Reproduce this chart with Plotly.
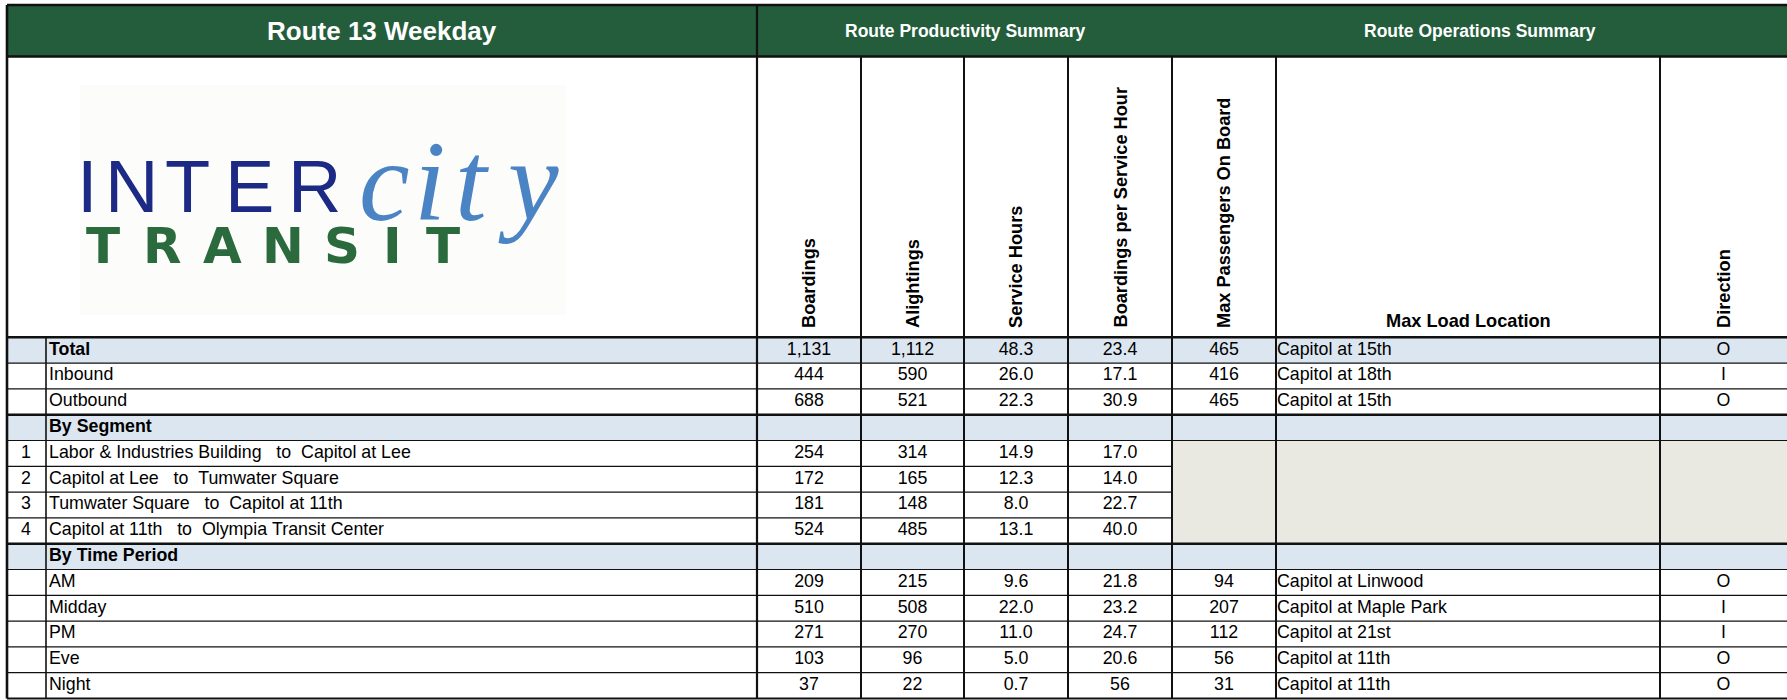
import plotly.graph_objects as go

# ---------------- data ----------------
title = "Route 13 Weekday"
group_titles = ["Route Productivity Summary", "Route Operations Summary"]
col_headers = ["Boardings", "Alightings", "Service Hours", "Boardings per Service Hour",
               "Max Passengers On Board", "Max Load Location", "Direction"]

row_index = ["", "", "", "", "1", "2", "3", "4", "", "", "", "", "", ""]
row_labels = ["Total", "Inbound", "Outbound", "By Segment",
              "Labor & Industries Building   to  Capitol at Lee",
              "Capitol at Lee   to  Tumwater Square",
              "Tumwater Square   to  Capitol at 11th",
              "Capitol at 11th   to  Olympia Transit Center",
              "By Time Period", "AM", "Midday", "PM", "Eve", "Night"]
is_group = [True, False, False, True, False, False, False, False,
            True, False, False, False, False, False]

boardings = [1131, 444, 688, None, 254, 172, 181, 524, None, 209, 510, 271, 103, 37]
alightings = [1112, 590, 521, None, 314, 165, 148, 485, None, 215, 508, 270, 96, 22]
service_hours = [48.3, 26.0, 22.3, None, 14.9, 12.3, 8.0, 13.1, None, 9.6, 22.0, 11.0, 5.0, 0.7]
boardings_per_hour = [23.4, 17.1, 30.9, None, 17.0, 14.0, 22.7, 40.0, None, 21.8, 23.2, 24.7, 20.6, 56]
max_passengers = [465, 416, 465, None, None, None, None, None, None, 94, 207, 112, 56, 31]
max_load_location = ["Capitol at 15th", "Capitol at 18th", "Capitol at 15th", "", "", "", "", "", "",
                     "Capitol at Linwood", "Capitol at Maple Park", "Capitol at 21st",
                     "Capitol at 11th", "Capitol at 11th"]
direction = ["O", "I", "O", "", "", "", "", "", "", "O", "I", "I", "O", "O"]
# rows (by index) where operations columns are not applicable (shaded)
shaded_rows = [4, 5, 6, 7]

# ---------------- layout constants ----------------
W, H = 1787, 700
FONT = "Liberation Sans, Arial, sans-serif"
GREEN = "#245D3C"
BLUE = "#DCE6F1"
SHADE = "#E9E9E1"

X_LEFT = 7
X_IDX = 46
COL_EDGES = [757, 861, 964, 1068, 1172, 1276, 1660, W]
Y_TOP = 5
Y_HEAD = 56.5
Y_ROWS = 337.3
ROW_H = 25.8
n = len(row_labels)
row_top = [Y_ROWS + i * ROW_H for i in range(n)]
row_mid = [t + ROW_H / 2 for t in row_top]
Y_BOT = Y_ROWS + n * ROW_H


def fmt_int(v):
    return "" if v is None else f"{v:,}"


def fmt_1(v):
    if v is None:
        return ""
    if isinstance(v, int):
        return str(v)
    return f"{v:.1f}"


def nb(s):
    return s.replace("&", "&amp;").replace(" ", "\u00a0")


fig = go.Figure()
shapes = []


def line(x0, y0, x1, y1, w=1.2, c="#111"):
    shapes.append(dict(type="line", x0=x0, y0=y0, x1=x1, y1=y1, xref="x", yref="y",
                       line=dict(color=c, width=w), layer="above"))


def rect(x0, y0, x1, y1, fill):
    shapes.append(dict(type="rect", x0=x0, y0=y0, x1=x1, y1=y1, xref="x", yref="y",
                       fillcolor=fill, line=dict(width=0), layer="below"))


# header band
rect(X_LEFT, Y_TOP, W, Y_HEAD, GREEN)
# group row fills
for i, g in enumerate(is_group):
    if g:
        rect(X_LEFT, row_top[i], W, row_top[i] + ROW_H, BLUE)
# shaded n/a block
rect(COL_EDGES[4], row_top[shaded_rows[0]], W, row_top[shaded_rows[-1]] + ROW_H, SHADE)

# horizontal row lines
for i in range(1, n):
    y = row_top[i]
    thick = is_group[i]
    if i - 1 in shaded_rows and i in shaded_rows:
        line(X_LEFT, y, COL_EDGES[4], y, 1.2)
    else:
        line(X_LEFT, y, W, y, 2.6 if thick else 1.2)
line(X_LEFT, Y_ROWS, W, Y_ROWS, 2.6)
line(X_LEFT, Y_BOT, W, Y_BOT, 2.2)
line(X_LEFT, Y_TOP, W, Y_TOP, 2.6)
line(X_LEFT, Y_HEAD, W, Y_HEAD, 2.6)
# vertical lines
line(X_LEFT, Y_TOP, X_LEFT, Y_BOT, 2.6)
line(COL_EDGES[0], Y_TOP, COL_EDGES[0], Y_BOT, 2.2)
for xe in COL_EDGES[1:-1]:
    line(xe, Y_HEAD, xe, Y_BOT, 2.0)
line(X_IDX, Y_ROWS, X_IDX, Y_BOT, 1.6)

# ---------------- text traces ----------------
txt = dict(family=FONT, size=17.8, color="#000")
centers = [(COL_EDGES[k] + COL_EDGES[k + 1]) / 2 for k in range(len(COL_EDGES) - 1)]

fig.add_trace(go.Scatter(x=[26] * n, y=row_mid, mode="text", text=row_index,
                         textposition="middle center", textfont=txt, hoverinfo="skip"))
fig.add_trace(go.Scatter(x=[49] * n, y=row_mid, mode="text",
                         text=[("<b>%s</b>" % nb(s)) if g else nb(s) for s, g in zip(row_labels, is_group)],
                         textposition="middle right", textfont=txt, hoverinfo="skip"))
for k, col in enumerate([boardings, alightings]):
    fig.add_trace(go.Scatter(x=[centers[k]] * n, y=row_mid, mode="text",
                             text=[fmt_int(v) for v in col],
                             textposition="middle center", textfont=txt, hoverinfo="skip"))
for k, col in [(2, service_hours), (3, boardings_per_hour)]:
    fig.add_trace(go.Scatter(x=[centers[k]] * n, y=row_mid, mode="text",
                             text=[fmt_1(v) for v in col],
                             textposition="middle center", textfont=txt, hoverinfo="skip"))
fig.add_trace(go.Scatter(x=[centers[4]] * n, y=row_mid, mode="text",
                         text=[fmt_int(v) for v in max_passengers],
                         textposition="middle center", textfont=txt, hoverinfo="skip"))
fig.add_trace(go.Scatter(x=[COL_EDGES[5] + 1] * n, y=row_mid, mode="text",
                         text=[nb(s) for s in max_load_location],
                         textposition="middle right", textfont=txt, hoverinfo="skip"))
fig.add_trace(go.Scatter(x=[centers[6]] * n, y=row_mid, mode="text", text=direction,
                         textposition="middle center", textfont=txt, hoverinfo="skip"))

# ---------------- annotations ----------------
ann = []
hdr = dict(family=FONT, size=18.2, color="#000", weight="bold")
ann.append(dict(x=(X_LEFT + COL_EDGES[0]) / 2, y=30.5, text=title, showarrow=False,
                font=dict(family=FONT, size=26, color="white", weight="bold"),
                xanchor="center", yanchor="middle"))
ann.append(dict(x=(COL_EDGES[0] + COL_EDGES[4]) / 2, y=30.5, text=group_titles[0], showarrow=False,
                font=dict(family=FONT, size=17.5, color="white", weight="bold"),
                xanchor="center", yanchor="middle"))
ann.append(dict(x=(COL_EDGES[4] + W) / 2, y=30.5, text=group_titles[1], showarrow=False,
                font=dict(family=FONT, size=17.5, color="white", weight="bold"),
                xanchor="center", yanchor="middle"))
for k, h in enumerate(col_headers):
    if h == "Max Load Location":
        ann.append(dict(x=centers[k], y=333, text=h, showarrow=False, font=hdr,
                        xanchor="center", yanchor="bottom"))
    else:
        ann.append(dict(x=centers[k], y=330, text=h, showarrow=False, font=hdr, textangle=-90,
                        xanchor="center", yanchor="bottom"))

# logo (INTERcity TRANSIT)
rect(80, 85, 566, 315, "#FCFCFA")
for ch, x in [("I", 87), ("N", 131), ("T", 187), ("E", 249), ("R", 314)]:
    ann.append(dict(x=x, y=186, text=ch, showarrow=False, xanchor="center", yanchor="middle",
                    font=dict(family=FONT, size=74, color="#1C2A86")))
for ch, x in [("c", 384), ("i", 430), ("t", 472), ("y", 528)]:
    ann.append(dict(x=x, y=181, text=ch, showarrow=False, xanchor="center", yanchor="middle",
                    font=dict(family="Liberation Serif, serif", size=114, color="#4A84C4",
                              style="italic")))
for ch, x in [("T", 103), ("R", 162), ("A", 222), ("N", 283), ("S", 342), ("I", 392), ("T", 443)]:
    ann.append(dict(x=x, y=246, text=ch, showarrow=False, xanchor="center", yanchor="middle",
                    font=dict(family="DejaVu Sans, sans-serif", size=50, color="#2B6A3C",
                              weight="bold")))

fig.update_layout(
    width=W, height=H, margin=dict(l=0, r=0, t=0, b=0),
    paper_bgcolor="white", plot_bgcolor="white", showlegend=False,
    xaxis=dict(range=[0, W], visible=False, fixedrange=True),
    yaxis=dict(range=[H, 0], visible=False, fixedrange=True),
    shapes=shapes, annotations=ann,
)

fig.write_html("out.html", config={"displayModeBar": False},
               post_script="document.body.style.margin='0px';")
